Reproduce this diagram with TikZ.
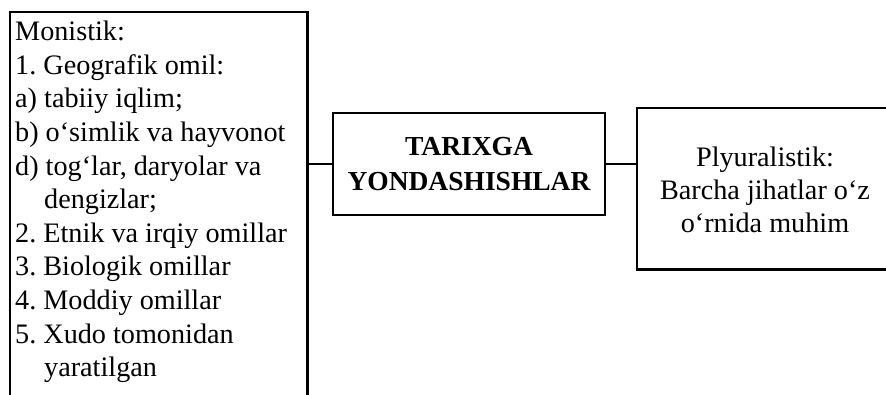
\documentclass[tikz,border=0pt]{standalone}
\usepackage{fontspec}
\setmainfont{Liberation Serif}
\frenchspacing
\begin{document}
\begin{tikzpicture}[x=1pt,y=-1pt,
  box/.style={draw=black,line width=2.2pt,rectangle,inner sep=0pt},
  openbox/.style={rectangle,inner sep=0pt},
  link/.style={draw=black,line width=2.2pt},
  txt/.style={font=\fontsize{28.2}{33.6}\selectfont,inner sep=0pt}]
\useasboundingbox (0,0) rectangle (886,394);
\clip (0,0) rectangle (886,394);
\node[openbox,anchor=north west,minimum width=297pt,minimum height=420pt] (mon) at (10,12) {};
\draw[link] (mon.south west) -- (mon.north west) -- (mon.north east) -- (mon.south east);
\node[txt,anchor=north west,align=left] (montext) at (15,21) {Monistik:\\
1. Geografik omil:\\
a) tabiiy iqlim;\\
b) o‘simlik va hayvonot\\
d) tog‘lar, daryolar va\\
\hspace*{29pt}dengizlar;\\
2. Etnik va irqiy omillar\\
3. Biologik omillar\\
4. Moddiy omillar\\
5. Xudo tomonidan\\
\hspace*{29pt}yaratilgan};
\node[box,minimum width=272pt,minimum height=102pt,font=\bfseries\fontsize{27.5}{35}\selectfont,align=center] (mid) at (469,164) {TARIXGA\\YONDASHISHLAR};
\node[openbox,anchor=north west,minimum width=300pt,minimum height=161pt] (plu) at (637,108) {};
\draw[link] (plu.north east) -- (plu.north west) -- (plu.south west) -- (plu.south east);
\node[txt,align=center,font=\fontsize{28.2}{33}\selectfont] (plutext) at (765,190) {Plyuralistik:\\Barcha jihatlar o‘z\\o‘rnida muhim};
\draw[link] (mid.west) -- (mid.west -| mon.east);
\draw[link] (mid.east) -- (mid.east -| plu.west);
\end{tikzpicture}
\end{document}
